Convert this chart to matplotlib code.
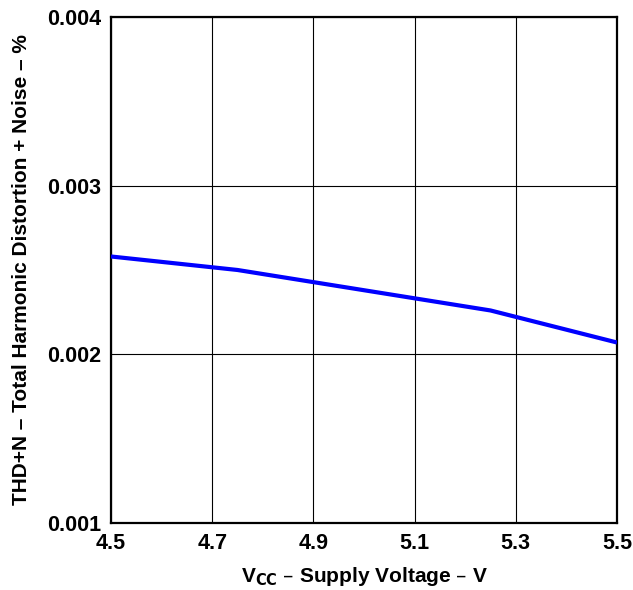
import matplotlib
matplotlib.use("Agg")
import matplotlib.pyplot as plt

vcc = [4.5, 4.75, 5.0, 5.25, 5.5]
thdn = [0.00258, 0.00250, 0.00238, 0.00226, 0.00207]
xticks = [4.5, 4.7, 4.9, 5.1, 5.3, 5.5]
yticks = [0.001, 0.002, 0.003, 0.004]

plt.rcParams['font.family'] = ['Liberation Sans', 'DejaVu Sans']
plt.rcParams['font.weight'] = 'bold'

fig = plt.figure(figsize=(6.33, 5.9), dpi=100)
ax = fig.add_axes([0.1754, 0.1136, 0.7993, 0.8576])
ax.plot(vcc, thdn, color='#0000ff', lw=3.0, solid_capstyle='butt', zorder=3)
ax.set_xlim(4.5, 5.5)
ax.set_ylim(0.001, 0.004)
ax.set_xticks(xticks)
ax.set_yticks(yticks)
ax.set_xticklabels([f"{v:.1f}" for v in xticks], fontsize=15.5, fontweight='bold')
ax.set_yticklabels([f"{v:.3f}" for v in yticks], fontsize=15.5, fontweight='bold')
ax.grid(True, color='black', lw=0.8)
ax.tick_params(length=0, pad=7)
for s in ax.spines.values():
    s.set_linewidth(1.6)
ax.set_xlabel(r"V$_{\mathbf{CC}}$ – Supply Voltage – V", fontsize=15, fontweight='bold', labelpad=8)
ax.set_ylabel("THD+N – Total Harmonic Distortion + Noise – %", fontsize=15, fontweight='bold', labelpad=12)
fig.savefig("out.png", dpi=100)
